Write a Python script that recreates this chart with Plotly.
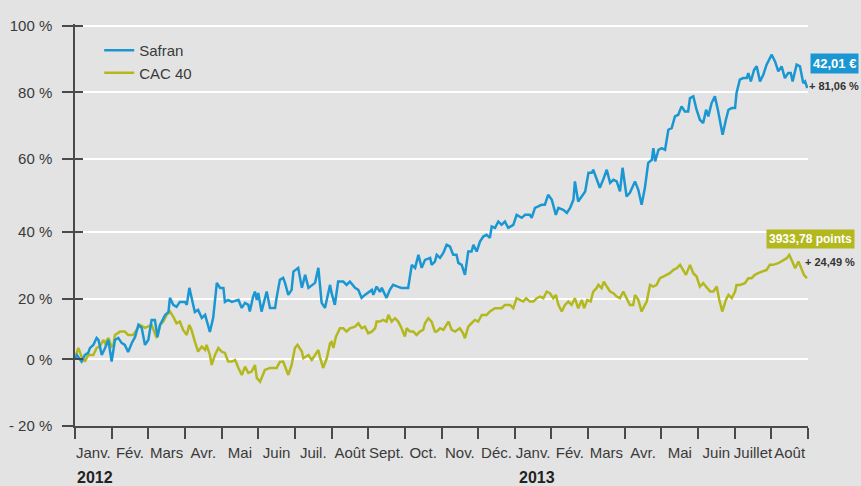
import plotly.graph_objects as go

# ---- data (time in months since 1 Jan 2012, performance in %) ----
months = ["Janv.", "Fév.", "Mars", "Avr.", "Mai", "Juin", "Juil.", "Août", "Sept.", "Oct.",
          "Nov.", "Déc.", "Janv.", "Fév.", "Mars", "Avr.", "Mai", "Juin", "Juillet", "Août"]
years = ["2012", "2013"]

safran_t = [0.00, 0.05, 0.18, 0.27, 0.36, 0.41, 0.50, 0.59, 0.64, 0.73, 0.82, 0.91, 1.00, 1.09, 1.18, 1.27,
            1.36, 1.45, 1.55, 1.64, 1.73, 1.82, 1.91, 2.00, 2.09, 2.18, 2.25, 2.32, 2.46, 2.55, 2.59, 2.68,
            2.77, 2.86, 3.00, 3.05, 3.12, 3.18, 3.27, 3.36, 3.46, 3.55, 3.68, 3.77, 3.87, 3.96, 4.05, 4.09,
            4.18, 4.28, 4.46, 4.55, 4.64, 4.73, 4.77, 4.86, 4.91, 4.96, 5.00, 5.09, 5.18, 5.23, 5.32, 5.46,
            5.50, 5.59, 5.68, 5.73, 5.82, 5.91, 5.96, 6.09, 6.19, 6.28, 6.37, 6.46, 6.55, 6.64, 6.73, 6.82,
            6.96, 7.00, 7.09, 7.18, 7.32, 7.41, 7.50, 7.64, 7.73, 7.82, 7.91, 8.10, 8.14, 8.23, 8.32, 8.37,
            8.50, 8.59, 8.68, 8.82, 8.91, 9.09, 9.19, 9.28, 9.37, 9.46, 9.55, 9.69, 9.73, 9.82, 9.87, 9.96,
            10.05, 10.14, 10.23, 10.32, 10.41, 10.46, 10.55, 10.64, 10.73, 10.82, 10.87, 10.96, 11.05, 11.14,
            11.23, 11.32, 11.37, 11.46, 11.55, 11.64, 11.73, 11.82, 11.96, 12.05, 12.19, 12.28, 12.41, 12.46,
            12.55, 12.64, 12.73, 12.82, 12.91, 13.01, 13.05, 13.12, 13.19, 13.32, 13.42, 13.51, 13.60, 13.64,
            13.73, 13.83, 13.92, 14.01, 14.10, 14.14, 14.23, 14.32, 14.41, 14.51, 14.60, 14.69, 14.78, 14.87,
            14.94, 15.05, 15.14, 15.28, 15.37, 15.46, 15.55, 15.64, 15.74, 15.78, 15.83, 15.92, 16.01, 16.10,
            16.19, 16.28, 16.37, 16.46, 16.55, 16.64, 16.73, 16.78, 16.87, 16.96, 17.05, 17.14, 17.22, 17.28,
            17.37, 17.46, 17.55, 17.60, 17.67, 17.76, 17.83, 17.92, 18.01, 18.05, 18.14, 18.23, 18.33, 18.37,
            18.44, 18.53, 18.60, 18.69, 18.78, 18.87, 18.96, 19.01, 19.10, 19.19, 19.28, 19.37, 19.46, 19.53,
            19.58, 19.69, 19.78, 19.87, 19.92, 19.98]
safran_v = [0.3, 1.3, -0.7, 1.3, 1.9, 3.4, 4.3, 6.4, 5.8, 1.3, 3.4, 5.8, -0.7, 5.8, 6.4, 4.9,
            4.3, 2.2, 4.9, 6.7, 10.3, 9.4, 4.3, 5.8, 11.8, 11.8, 6.7, 10.3, 13.3, 14.2, 18.4, 16.3,
            15.7, 17.2, 17.2, 16.3, 21.4, 18.4, 14.2, 14.8, 12.4, 13.3, 8.2, 12.4, 22.9, 21.4, 21.4, 17.2,
            17.8, 17.2, 17.8, 15.4, 16.9, 16.3, 14.3, 18.8, 20.3, 17.8, 19.9, 14.3, 18.7, 20.3, 15.4, 15.4,
            18.4, 23.8, 24.4, 22.9, 19.3, 20.8, 26.3, 27.4, 21.4, 25.3, 21.4, 22.3, 22.9, 27.4, 16.9, 15.4,
            22.3, 19.9, 16.3, 23.3, 23.3, 22.3, 23.3, 21.4, 20.8, 18.4, 19.3, 20.8, 19.3, 21.8, 20.2, 21.4,
            18.4, 20.8, 22.3, 21.7, 21.4, 21.4, 28.3, 27.4, 31.3, 27.4, 29.8, 30.4, 28.3, 29.3, 31.3, 30.4,
            31.9, 34.3, 33.8, 31.3, 31.3, 28.9, 28.3, 25.3, 32.3, 32.3, 34.3, 32.3, 35.3, 36.8,
            37.3, 36.4, 39.8, 39.4, 41.3, 40.3, 41.3, 39.4, 40.3, 43.3, 42.4, 43.3, 43.3, 42.4,
            45.4, 45.8, 46.3, 46.3, 49.3, 47.8, 46.3, 43.3, 45.4, 44.8, 43.9, 45.4, 47.8, 53.3,
            47.3, 48.8, 50.3, 55.9, 55.9, 56.8, 53.8, 51.4, 53.8, 56.8, 52.9, 53.8, 53.3, 50.3,
            57.4, 48.8, 49.9, 53.3, 50.8, 46.3, 51.4, 58.9, 59.8, 63.3, 59.3, 62.8, 63.3, 62.8,
            68.8, 69.3, 72.8, 73.3, 75.8, 74.3, 74.3, 78.3, 78.8, 74.8, 71.8, 70.8, 74.8, 72.8,
            76.8, 78.8, 74.3, 71.8, 67.3, 71.8, 74.8, 75.3, 75.3, 79.8, 83.8, 84.3, 84.3, 85.8,
            83.3, 86.8, 87.8, 83.3, 85.3, 88.3, 90.3, 91.3, 89.3, 86.3, 87.8, 84.3, 85.8, 85.8,
            83.3, 88.3, 87.8, 82.8, 83.3, 81.3]

cac_t = [0.03, 0.09, 0.18, 0.27, 0.36, 0.50, 0.59, 0.68, 0.77, 0.82, 0.91, 1.00, 1.05, 1.09, 1.23, 1.36,
         1.45, 1.59, 1.68, 1.77, 1.91, 2.00, 2.09, 2.23, 2.32, 2.41, 2.50, 2.59, 2.68, 2.77, 2.86, 2.95,
         3.05, 3.12, 3.18, 3.27, 3.36, 3.46, 3.55, 3.59, 3.68, 3.73, 3.82, 3.91, 4.00, 4.09, 4.18, 4.28,
         4.37, 4.46, 4.55, 4.64, 4.73, 4.82, 4.91, 4.96, 5.05, 5.18, 5.32, 5.50, 5.59, 5.68, 5.82, 5.91,
         6.00, 6.07, 6.19, 6.23, 6.37, 6.46, 6.55, 6.64, 6.68, 6.77, 6.87, 6.96, 7.00, 7.05, 7.12, 7.23,
         7.32, 7.41, 7.50, 7.64, 7.73, 7.82, 7.91, 8.00, 8.10, 8.19, 8.23, 8.32, 8.41, 8.50, 8.55, 8.64,
         8.73, 8.82, 8.91, 9.00, 9.05, 9.14, 9.23, 9.32, 9.41, 9.50, 9.55, 9.64, 9.73, 9.82, 9.87, 9.96,
         10.05, 10.14, 10.19, 10.28, 10.37, 10.50, 10.59, 10.64, 10.73, 10.82, 10.91, 11.00, 11.10, 11.23,
         11.32, 11.46, 11.64, 11.73, 11.87, 11.96, 12.05, 12.14, 12.23, 12.31, 12.41, 12.51, 12.60, 12.69,
         12.78, 12.87, 12.96, 13.05, 13.12, 13.19, 13.28, 13.37, 13.46, 13.55, 13.64, 13.73, 13.83, 13.89,
         13.98, 14.07, 14.14, 14.23, 14.28, 14.37, 14.43, 14.51, 14.60, 14.69, 14.78, 14.87, 14.96, 15.05,
         15.14, 15.23, 15.28, 15.37, 15.46, 15.55, 15.60, 15.69, 15.78, 15.87, 15.96, 16.05, 16.14, 16.23,
         16.33, 16.42, 16.51, 16.58, 16.67, 16.78, 16.87, 16.96, 17.05, 17.14, 17.24, 17.33, 17.42, 17.51,
         17.57, 17.66, 17.76, 17.83, 17.92, 18.01, 18.05, 18.14, 18.28, 18.37, 18.46, 18.55, 18.64, 18.74,
         18.87, 18.96, 19.05, 19.19, 19.33, 19.42, 19.49, 19.58, 19.65, 19.74, 19.83, 19.89, 19.97]
cac_v = [1.3, 3.4, 0.8, -0.7, 1.3, 1.3, 3.4, 3.8, 5.8, 4.8, 6.4, 3.8, 4.3, 7.3, 8.3, 8.3,
         7.3, 7.3, 8.8, 10.3, 9.4, 9.8, 10.3, 6.4, 10.3, 11.3, 13.3, 14.3, 12.8, 10.8, 11.3, 8.8,
         7.3, 10.3, 8.8, 5.3, 2.3, 3.8, 2.8, 4.3, 1.3, -1.7, 1.3, 3.4, 2.3, 1.9, -0.7, -0.7,
         -0.2, -2.6, -4.7, -2.2, -4.1, -3.7, -1.7, -5.6, -6.7, -3.2, -2.6, -2.6, -0.8, -0.7, -4.7, -1.7,
         3.4, 4.3, 2.3, 0.3, 1.3, -0.2, 1.3, 2.8, 0.8, -2.6, 0.3, 4.8, 5.2, 3.4, 6.8, 9.3,
         9.3, 8.3, 9.3, 9.8, 10.8, 9.3, 9.8, 7.8, 8.3, 9.3, 11.3, 11.3, 11.8, 11.3, 13.3, 11.3,
         12.3, 11.3, 9.3, 6.8, 9.3, 8.3, 8.3, 7.3, 8.3, 8.8, 10.8, 12.3, 11.3, 8.3, 8.3, 9.3,
         8.8, 10.3, 11.3, 8.8, 8.3, 9.3, 7.8, 6.3, 9.8, 10.8, 11.8, 11.3, 13.3, 13.3,
         14.3, 15.3, 15.3, 16.3, 16.3, 15.3, 18.3, 17.8, 17.3, 18.3, 17.3, 17.3, 18.3, 18.8,
         18.3, 20.3, 19.8, 18.3, 19.3, 16.3, 14.3, 16.3, 17.3, 16.3, 18.3, 15.3, 17.8, 15.3,
         17.8, 17.3, 20.3, 21.3, 22.3, 21.3, 23.3, 21.8, 20.3, 19.8, 18.8, 18.3, 20.3, 18.3,
         16.3, 16.3, 19.3, 17.8, 14.3, 16.3, 17.3, 22.3, 21.8, 22.3, 24.3, 24.8, 25.3, 25.8,
         26.8, 27.3, 28.3, 26.8, 25.3, 28.3, 25.8, 24.8, 21.8, 22.8, 21.3, 20.3, 20.3, 21.8,
         18.3, 14.3, 17.8, 19.3, 18.3, 20.3, 22.3, 22.3, 22.8, 24.3, 24.3, 25.3, 25.8, 26.3,
         26.8, 28.3, 28.3, 28.8, 29.8, 30.3, 31.3, 29.3, 27.3, 29.3, 26.8, 25.3, 24.3]

# y tick positions as drawn in the original (its 20 % and 40 % grid lines sit slightly low)
ytick_vals = [-20, 0, 18.1, 38.3, 60, 80, 100]
ytick_text = ["- 20 %", "0 %", "20 %", "40 %", "60 %", "80 %", "100 %"]
y_range = [-20, 100.5]

safran_price = "42,01 €"
safran_perf = "+ 81,06 %"
cac_points = "3933,78 points"
cac_perf = "+ 24,49 %"

BLUE = "#1a97d3"
OLIVE = "#b3b81f"
BG = "#e3e3e3"
AXIS = "#4a4a4a"
FONT = "Liberation Sans, Arial, sans-serif"

fig = go.Figure()
fig.add_trace(go.Scatter(x=cac_t, y=cac_v, mode="lines", name="CAC 40",
                         line=dict(color=OLIVE, width=2.5)))
fig.add_trace(go.Scatter(x=safran_t, y=safran_v, mode="lines", name="Safran", yaxis="y2",
                         line=dict(color=BLUE, width=2.5)))

fig.update_layout(
    width=861, height=486,
    margin=dict(l=75, r=53, t=24, b=60, autoexpand=False),
    paper_bgcolor=BG, plot_bgcolor=BG,
    font=dict(family=FONT, size=15, color="#3a3a3a"),
    legend=dict(x=0.033, y=0.975, xanchor="left", yanchor="top",
                bgcolor="rgba(0,0,0,0)", traceorder="reversed",
                font=dict(size=15, color="#3a3a3a"), itemwidth=30, tracegroupgap=0),
    xaxis=dict(
        range=[0, 20], showline=True, linecolor=AXIS, linewidth=1.5,
        tickvals=[i + 0.5 for i in range(len(months))], ticktext=months,
        tickangle=0, automargin=False,
        ticks="outside", ticklen=11, tickcolor="rgba(0,0,0,0)", ticklabelstandoff=1,
        showgrid=False, zeroline=False,
        minor=dict(tickvals=list(range(len(months) + 1)), ticks="outside",
                   ticklen=11, tickcolor=AXIS, tickwidth=1.5, showgrid=False),
    ),
    yaxis=dict(
        range=y_range, showline=True, linecolor=AXIS, linewidth=1.5,
        tickvals=ytick_vals, ticktext=ytick_text, automargin=False,
        ticks="outside", ticklen=11, tickcolor=AXIS, tickwidth=1.5, ticklabelstandoff=7,
        showgrid=True, gridcolor="#ffffff", gridwidth=2, zeroline=False,
    ),
    yaxis2=dict(
        range=y_range, overlaying="y", side="left", automargin=False,
        tickvals=ytick_vals, showticklabels=False,
        ticks="inside", ticklen=8, tickcolor=AXIS, tickwidth=1.5,
        showgrid=False, zeroline=False, showline=False,
    ),
)

fig.add_annotation(x=0, y=-0.1275, xref="x", yref="paper", text="<b>" + years[0] + "</b>",
                   showarrow=False, xanchor="left", yanchor="middle",
                   font=dict(size=16, color="#222222"))
fig.add_annotation(x=12, y=-0.1275, xref="x", yref="paper", text="<b>" + years[1] + "</b>",
                   showarrow=False, xanchor="left", yanchor="middle", xshift=2,
                   font=dict(size=16, color="#222222"))

fig.add_annotation(x=1.0355, y=0.9025, xref="paper", yref="paper", text="<b>" + safran_price + "</b>",
                   showarrow=False, bgcolor=BLUE, borderpad=2, xanchor="center", yanchor="middle",
                   font=dict(size=13, color="#ffffff"))
fig.add_annotation(x=1.0355, y=0.845, xref="paper", yref="paper", text="<b>" + safran_perf + "</b>",
                   showarrow=False, xanchor="center", yanchor="middle",
                   font=dict(size=11, color="#333333"))
fig.add_annotation(x=1.004, y=0.466, xref="paper", yref="paper", text="<b>" + cac_points + "</b>",
                   showarrow=False, bgcolor=OLIVE, borderpad=2, xanchor="center", yanchor="middle",
                   font=dict(size=12, color="#ffffff"))
fig.add_annotation(x=1.030, y=0.408, xref="paper", yref="paper", text="<b>" + cac_perf + "</b>",
                   showarrow=False, xanchor="center", yanchor="middle",
                   font=dict(size=11, color="#333333"))

fig.write_html("out.html")
